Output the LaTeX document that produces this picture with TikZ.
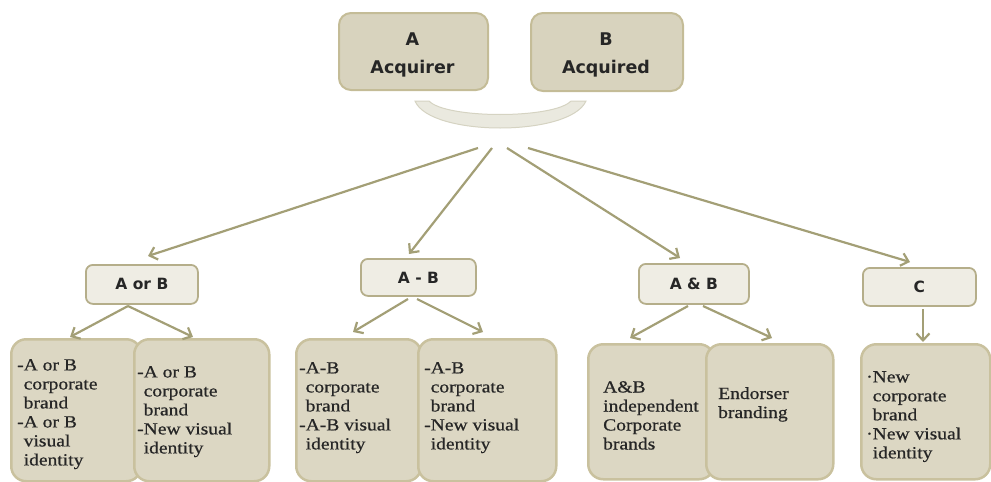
\documentclass[tikz,border=0pt]{standalone}
\usepackage{fontspec}
\setmainfont{Liberation Serif}[FakeStretch=1.15,FakeBold=0.6]
\newfontfamily\hsans{DejaVu Sans}
\usetikzlibrary{arrows.meta}
\definecolor{topfill}{HTML}{D8D3BE}
\definecolor{topbd}{HTML}{C4BC97}
\definecolor{midfill}{HTML}{EFEDE4}
\definecolor{midbd}{HTML}{B5AE8A}
\definecolor{botfill}{HTML}{DCD7C3}
\definecolor{botbd}{HTML}{C9C19E}
\definecolor{arrc}{HTML}{A39F76}
\definecolor{arcfill}{HTML}{EAE9DF}
\definecolor{arcbd}{HTML}{D5D3C2}
\definecolor{txt}{HTML}{262626}
\tikzset{
  topbox/.style={draw=topbd, fill=topfill, line width=2pt, rounded corners=12pt, inner sep=0pt, anchor=north west},
  midbox/.style={draw=midbd, fill=midfill, line width=1.8pt, rounded corners=7pt, inner sep=0pt, anchor=north west,
    font=\hsans\bfseries\fontsize{15.5}{18}\selectfont, text=txt},
  botbox/.style={draw=botbd, fill=botfill, line width=2.5pt, rounded corners=15pt, inner sep=0pt, anchor=north west},
  bottxt/.style={anchor=north west, inner sep=0pt, align=left, font=\fontsize{17}{19}\selectfont, text=txt},
  toptxt/.style={anchor=north, inner sep=0pt, align=center, font=\hsans\bfseries\fontsize{17.5}{28}\selectfont, text=txt},
  arr/.style={draw=arrc, line width=2.2pt, -{Straight Barb[length=7pt,width=13pt]}},
}
\begin{document}
\begin{tikzpicture}[x=1pt,y=-1pt]
\useasboundingbox (0,0) rectangle (991,482);
% top boxes
\node[topbox, minimum width=149pt, minimum height=77pt] (boxA) at (338,12) {};
\node[topbox, minimum width=152pt, minimum height=78pt] (boxB) at (530,12) {};
\node[toptxt] (tA) at (412.5,33) {A\\Acquirer};
\node[toptxt] (tB) at (606,33) {B\\Acquired};
% arc
\path[fill=arcfill, draw=arcbd, line width=1pt]
  (415,101) -- (429,101) .. controls (446,119) and (554,119) .. (571,101)
  -- (586,101) .. controls (570,137) and (430,137) .. (415,101) -- cycle;
% middle boxes
\node[midbox, minimum width=112pt, minimum height=39pt] (aorb) at (85,264) {A or B};
\node[midbox, minimum width=115pt, minimum height=37pt] (amb) at (360,258) {A - B};
\node[midbox, minimum width=110pt, minimum height=40pt] (aandb) at (638,263) {A \& B};
\node[midbox, minimum width=113pt, minimum height=38pt] (cc) at (862,267) {C};
% bottom boxes
\node[botbox, minimum width=130pt, minimum height=142pt] (l1) at (10,338) {};
\node[botbox, minimum width=135pt, minimum height=142pt] (l2) at (133,338) {};
\node[botbox, minimum width=125pt, minimum height=142pt] (m1) at (295,338) {};
\node[botbox, minimum width=138pt, minimum height=142pt] (m2) at (417,338) {};
\node[botbox, minimum width=126pt, minimum height=135pt] (r1) at (587,343) {};
\node[botbox, minimum width=127pt, minimum height=135pt] (r2) at (705,343) {};
\node[botbox, minimum width=129pt, minimum height=135pt] (c1) at (860,343) {};
% bottom texts
\node[bottxt] (tl1) at (17,359) {-A or B\\\phantom{-}corporate\\\phantom{-}brand\\-A or B\\\phantom{-}visual\\\phantom{-}identity};
\node[bottxt] (tl2) at (137,366) {-A or B\\\phantom{-}corporate\\\phantom{-}brand\\-New visual\\\phantom{-}identity};
\node[bottxt] (tm1) at (299,362) {-A-B\\\phantom{-}corporate\\\phantom{-}brand\\-A-B visual\\\phantom{-}identity};
\node[bottxt] (tm2) at (424,362) {-A-B\\\phantom{-}corporate\\\phantom{-}brand\\-New visual\\\phantom{-}identity};
\node[bottxt] (tr1) at (603,381) {A\&B\\independent\\Corporate\\brands};
\node[bottxt] (tr2) at (718,387) {Endorser\\branding};
\node[bottxt] (tc1) at (866,371) {·New\\\phantom{·}corporate\\\phantom{·}brand\\·New visual\\\phantom{·}identity};
% connector coordinates
\coordinate (s1) at (478,148);
\coordinate (s2) at (492,148);
\coordinate (s3) at (507,148);
\coordinate (s4) at (528,148);
\coordinate (e1) at (148,256);
\coordinate (e2) at (409,254);
\coordinate (e3) at (680,258);
\coordinate (e4) at (910,262);
\coordinate (pa) at (128,306);
\coordinate (pa1) at (70,337);
\coordinate (pa2) at (193,337);
\coordinate (pb1) at (408,299);
\coordinate (pb2) at (417,299);
\coordinate (qb1) at (353,332);
\coordinate (qb2) at (483,332);
\coordinate (pc1) at (688,306);
\coordinate (pc2) at (703,306);
\coordinate (qc1) at (630,338);
\coordinate (qc2) at (772,338);
\coordinate (pd) at (923,309);
\coordinate (qd) at (923,342);
% connectors
\draw[arr] (s1) -- (e1);
\draw[arr] (s2) -- (e2);
\draw[arr] (s3) -- (e3);
\draw[arr] (s4) -- (e4);
\draw[arr] (pa) -- (pa1);
\draw[arr] (pa) -- (pa2);
\draw[arr] (pb1) -- (qb1);
\draw[arr] (pb2) -- (qb2);
\draw[arr] (pc1) -- (qc1);
\draw[arr] (pc2) -- (qc2);
\draw[arr] (pd) -- (qd);
\end{tikzpicture}
\end{document}
